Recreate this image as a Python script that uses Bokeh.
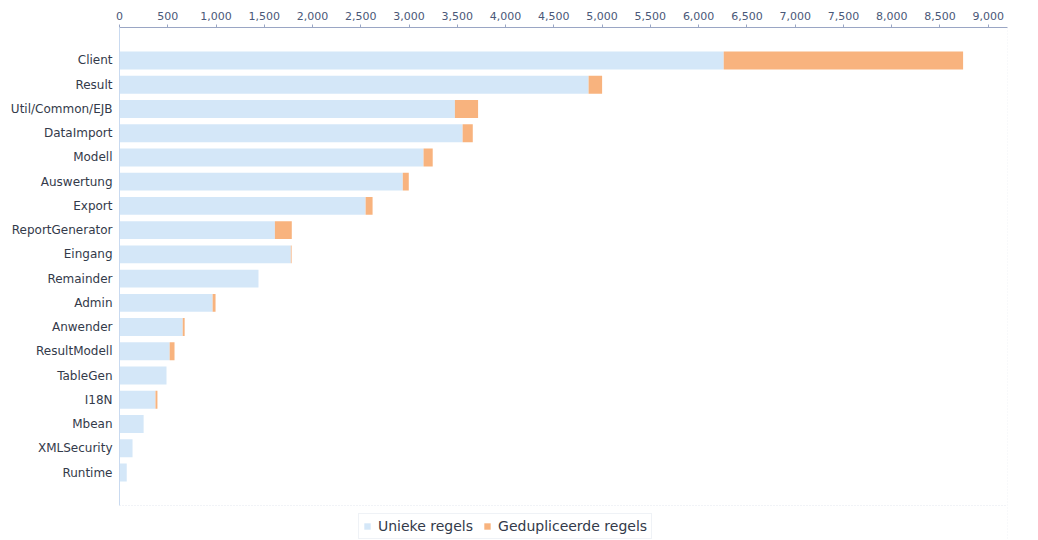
from bokeh.plotting import figure
from bokeh.models import (ColumnDataSource, Range1d, LinearAxis, FixedTicker, Span,
                          SingleIntervalTicker, NumeralTickFormatter, Legend, LegendItem)
from bokeh.embed import file_html
from bokeh.resources import INLINE

categories = ["Client", "Result", "Util/Common/EJB", "DataImport", "Modell", "Auswertung",
              "Export", "ReportGenerator", "Eingang", "Remainder", "Admin", "Anwender",
              "ResultModell", "TableGen", "I18N", "Mbean", "XMLSecurity", "Runtime"]
unique_lines = [6260, 4860, 3475, 3555, 3150, 2935, 2550, 1610, 1775, 1440, 965, 655,
                520, 487, 373, 250, 135, 75]
duplicate_lines = [2480, 140, 240, 105, 95, 62, 72, 175, 8, 0, 30, 20,
                   50, 0, 20, 0, 0, 0]
series_names = ["Unieke regels", "Gedupliceerde regels"]

BLUE = "#d4e7f8"
ORANGE = "#f8b37e"
FONT = "DejaVu Sans"

n = len(categories)
positions = [n - 1 - i for i in range(n)]  # first category at the top

source = ColumnDataSource(dict(pos=positions, cat=categories,
                               uniq=unique_lines, dup=duplicate_lines))

p = figure(width=1038, height=540, output_backend="svg", toolbar_location=None,
           y_range=Range1d(-2.805, n - 1 + 1.36),
           x_range=Range1d(0, 9200), x_axis_location=None,
           min_border_left=119, min_border_right=31, min_border_top=27, min_border_bottom=0)

renderers = p.hbar_stack(["uniq", "dup"], y="pos", height=0.74, color=[BLUE, ORANGE],
                         line_color=None, source=source)

top_axis = LinearAxis(ticker=SingleIntervalTicker(interval=500),
                      formatter=NumeralTickFormatter(format="0,0"))
top_axis.axis_line_color = "#9aa6c4"
top_axis.major_tick_line_color = "#9aa6c4"
top_axis.major_tick_out = 3
top_axis.major_tick_in = 0
top_axis.minor_tick_line_color = None
top_axis.major_label_text_font = FONT
top_axis.major_label_text_font_size = "11px"
top_axis.major_label_text_color = "#4a5878"
top_axis.major_label_standoff = 4
p.add_layout(top_axis, "above")

ya = p.yaxis[0]
ya.ticker = FixedTicker(ticks=positions)
ya.major_label_overrides = {pos: name for pos, name in zip(positions, categories)}
ya.bounds = (-1.36, n - 1 + 1.36)
ya.axis_line_color = "#c9daf0"
ya.major_tick_line_color = None
ya.major_tick_out = 0
ya.major_tick_in = 0
ya.minor_tick_line_color = None
ya.major_label_text_font = FONT
ya.major_label_text_font_size = "12px"
ya.major_label_text_color = "#333a4a"
ya.major_label_standoff = 7

p.xgrid.grid_line_color = None
p.ygrid.grid_line_color = None
p.outline_line_color = None
p.background_fill_color = "white"
p.border_fill_color = "white"

p.add_layout(Span(location=-1.36, dimension="width", line_color="#e2e7ee",
                  line_dash="1 2", line_width=1))
p.add_layout(Span(location=9200, dimension="height", line_color="#e2e7ee",
                  line_dash="1 2", line_width=1))

legend = Legend(items=[LegendItem(label=series_names[0], renderers=[renderers[0]]),
                       LegendItem(label=series_names[1], renderers=[renderers[1]])],
                orientation="horizontal", location=(239, 1),
                label_text_font=FONT, label_text_font_size="14px",
                label_text_color="#333a4a", glyph_width=8, glyph_height=8,
                label_height=14, label_standoff=7, spacing=10, padding=4, margin=0,
                border_line_color="#e0e6ee", background_fill_alpha=1)
p.add_layout(legend)

open("out.html", "w").write(file_html(p, INLINE))
